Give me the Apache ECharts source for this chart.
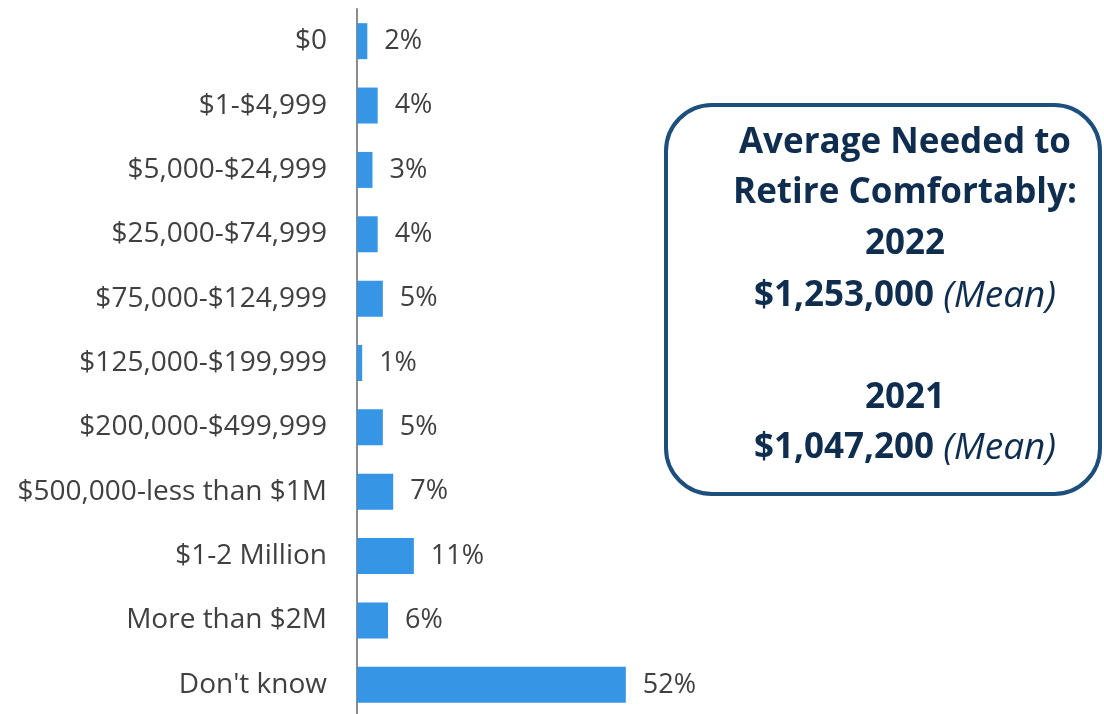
<!DOCTYPE html>
<html><head><meta charset="utf-8">
<script src="https://cdn.jsdelivr.net/npm/echarts@6/dist/echarts.min.js"></script>
<style>html,body{margin:0;padding:0;background:#fff;overflow:hidden}#c{width:1104px;height:722px}</style>
</head><body><div id="c"></div>
<script>
const categories = ["$0","$1-$4,999","$5,000-$24,999","$25,000-$74,999","$75,000-$124,999","$125,000-$199,999","$200,000-$499,999","$500,000-less than $1M","$1-2 Million","More than $2M","Don't know"];
const values = [2,4,3,4,5,1,5,7,11,6,52];
const boxLines = [
  {t:"Average Needed to", y:143},
  {t:"Retire Comfortably:", y:193},
  {t:"2022", y:244}
];
const mean2022 = "$1,253,000";
const mean2021 = "$1,047,200";
const year2021 = "2021";
const meanWord = "(Mean)";

const FONT = "'Open Sans', 'Noto Sans', sans-serif";
const chart = echarts.init(document.getElementById('c'));
const cx = 905, navy = '#0f2d4f';
const graphics = [{
  type:'rect', shape:{x:666,y:105,width:434,height:389,r:46},
  style:{fill:'#fff',stroke:'#1d4f7c',lineWidth:4}, z:10
}];
boxLines.forEach(l=>graphics.push({type:'text',x:cx,y:l.y,z:11,style:{text:l.t,font:"bold 35px "+FONT,fill:navy,textAlign:'center',textVerticalAlign:'middle'}}));
graphics.push({type:'text',x:cx,y:398,z:11,style:{text:year2021,font:"bold 35px "+FONT,fill:navy,textAlign:'center',textVerticalAlign:'middle'}});
[[mean2022,296],[mean2021,448]].forEach(([v,y])=>graphics.push({type:'text',x:cx,y:y,z:11,style:{
  text:'{b|'+v+' }{i|'+meanWord+'}', textAlign:'center', textVerticalAlign:'middle',
  rich:{b:{fontFamily:FONT,fontWeight:'bold',fontSize:35,fill:navy,color:navy},i:{fontFamily:FONT,fontStyle:'italic',fontSize:37,fill:navy,color:navy}}
}}));

chart.setOption({
  animation:false,
  grid:{left:357,top:9,width:517,height:708,containLabel:false},
  xAxis:{type:'value',min:0,max:100,show:false},
  yAxis:{type:'category',data:categories,inverse:true,
    axisLine:{show:true,lineStyle:{color:'#8c8c8c',width:2}},
    axisTick:{show:false},
    axisLabel:{margin:30,fontSize:28,fontFamily:FONT,color:'#404040'}},
  series:[{type:'bar',data:values,barWidth:36,
    itemStyle:{color:'#3795e5'},
    label:{show:true,position:'right',distance:17,formatter:'{c}%',fontSize:27,fontFamily:FONT,color:'#404040'}}],
  graphic:graphics
});
</script></body></html>
